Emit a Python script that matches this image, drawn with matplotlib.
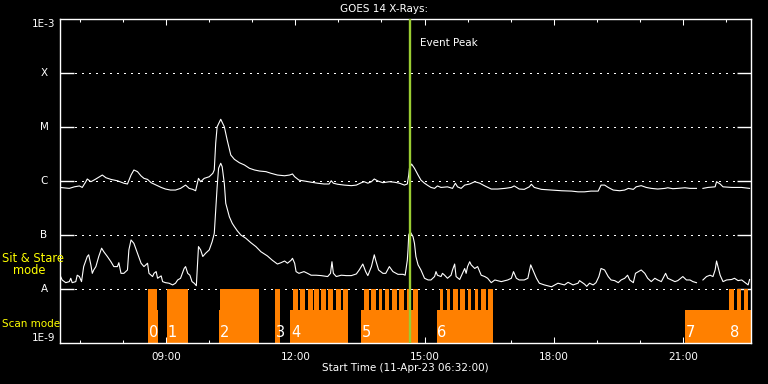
#!/usr/bin/env python3

import numpy as np
import matplotlib
matplotlib.use("Agg")
import matplotlib.pyplot as plt
from matplotlib.ticker import FixedLocator, NullLocator
from matplotlib.transforms import blended_transform_factory

# start of plot, times below are minutes after this
START = "11-Apr-23 06:32:00"
START_MIN = 6 * 60 + 32
END_MIN = 963

# GOES long channel (1-8 A), W/m^2 ; nan = data gap
long_t = [0, 13, 20, 27, 31, 36, 38, 43, 45, 50, 59, 64, 71, 80, 89, 94, 99, 103, 108, 113,
          117, 122, 127, 134, 141, 147, 154, 161, 168, 175, 180, 185, 189, 193, 196, 201, 208, 213, 215, 217,
          219, 224, 229, 233, 238, 243, 250, 257, 264, 271, 278, 287, 294, 303, 313, 320, 324, 327, 333, 340,
          350, 359, 368, 375, 378, 381, 387, 396, 406, 413, 420, 424, 429, 434, 438, 443, 450, 459, 466, 473,
          480, 484, 486, 487, 490, 494, 499, 503, 508, 513, 517, 522, 526, 531, 540, 547, 551, 554, 559, 564,
          571, 578, 585, 592, 601, 610, 620, 629, 633, 640, 647, 654, 657, 661, 671, 685, 699, 713, 722, 731,
          740, 750, 754, 759, 764, 771, 780, 787, 792, 799, 803, 810, 817, 824, 833, 843, 847, 854, 861, 871,
          878, 887, 891, 896, 903, 913, 915, 920, 924, 936, 950, 961]
long_flux = [7.6e-7, 7.3e-7, 7.8e-7, 8.1e-7, 7.6e-7, 9.7e-7, 1.09e-6, 9.7e-7, 1.0e-6, 1.09e-6,
             1.29e-6, 1.15e-6, 1.07e-6, 1.01e-6, 9.1e-7, 8.8e-7, 1.29e-6, 1.6e-6, 1.49e-6, 1.24e-6,
             1.12e-6, 1.07e-6, 9.3e-7, 8.4e-7, 7.6e-7, 7.1e-7, 6.8e-7, 6.8e-7, 7.3e-7, 8.4e-7,
             7.3e-7, 7.0e-7, 6.6e-7, 1.12e-6, 9.7e-7, 1.12e-6, 1.2e-6, 1.39e-6, 1.6e-6, 5.05e-6,
             1.01e-5, 1.39e-5, 1.01e-5, 5.74e-6, 3.03e-6, 2.52e-6, 2.18e-6, 1.98e-6, 1.72e-6, 1.6e-6,
             1.53e-6, 1.49e-6, 1.39e-6, 1.29e-6, 1.25e-6, 1.29e-6, 1.35e-6, 1.2e-6, 1.04e-6, 1.0e-6,
             9.5e-7, 9.1e-7, 8.8e-7, 8.8e-7, 1.01e-6, 9.1e-7, 8.7e-7, 8.4e-7, 8.2e-7, 8.4e-7,
             9.3e-7, 9.7e-7, 9.1e-7, 9.7e-7, 1.09e-6, 1.0e-6, 9.3e-7, 9.7e-7, 9.5e-7, 9.1e-7,
             8.4e-7, 8.8e-7, 1.29e-6, 1.72e-6, 2.06e-6, 1.72e-6, 1.29e-6, 1.04e-6, 9.1e-7, 8.2e-7,
             7.6e-7, 7.3e-7, 8.1e-7, 7.6e-7, 7.8e-7, 7.3e-7, 9.1e-7, 7.8e-7, 7.3e-7, 8.4e-7,
             8.8e-7, 9.7e-7, 9.1e-7, 8.1e-7, 7.1e-7, 7.1e-7, 7.3e-7, 7.6e-7, 8.1e-7, 7.1e-7,
             7.0e-7, 7.8e-7, 8.7e-7, 7.6e-7, 7.0e-7, 6.8e-7, 6.6e-7, 6.5e-7, 6.3e-7, 6.3e-7,
             6.5e-7, 6.5e-7, 8.4e-7, 8.4e-7, 7.6e-7, 6.8e-7, 6.6e-7, 6.8e-7, 7.3e-7, 7.0e-7,
             7.8e-7, 8.2e-7, 7.6e-7, 7.3e-7, 7.1e-7, 7.3e-7, 7.5e-7, 7.2e-7, 7.3e-7, 7.5e-7,
             7.3e-7, 7.3e-7, np.nan, 7.3e-7, 7.6e-7, 7.8e-7, 9.7e-7, 8.8e-7, 7.8e-7, 7.6e-7,
             7.6e-7, 7.3e-7]

# GOES short channel (0.5-4 A), W/m^2
short_t = [0, 3, 8, 13, 15, 17, 22, 24, 27, 30, 33, 38, 40, 43, 45, 47, 50, 54, 58, 61,
           66, 71, 75, 80, 82, 85, 89, 94, 96, 99, 103, 108, 113, 117, 122, 124, 129, 131, 134, 136,
           141, 143, 147, 152, 157, 161, 164, 168, 173, 175, 178, 181, 184, 187, 190, 193, 196, 199, 203, 208,
           212, 215, 217, 219, 221, 224, 226, 229, 231, 236, 240, 243, 247, 252, 259, 266, 273, 280, 289, 296,
           303, 308, 313, 317, 322, 324, 327, 329, 333, 340, 345, 350, 357, 364, 373, 377, 379, 381, 385, 392,
           399, 406, 413, 417, 422, 426, 429, 434, 438, 440, 444, 450, 454, 459, 464, 471, 478, 481, 484, 485,
           486, 488, 492, 494, 496, 499, 503, 508, 513, 517, 522, 524, 526, 531, 533, 536, 540, 545, 547, 550,
           552, 557, 561, 564, 566, 568, 571, 573, 578, 582, 587, 592, 596, 601, 606, 615, 624, 629, 632, 636,
           640, 647, 652, 656, 659, 664, 668, 675, 685, 694, 703, 708, 715, 722, 724, 731, 734, 738, 743, 747,
           751, 754, 759, 764, 768, 773, 778, 782, 787, 791, 794, 799, 802, 806, 810, 815, 819, 824, 829, 833,
           838, 844, 847, 852, 857, 861, 868, 873, 878, 882, 887, 891, 896, 901, 906, 910, 913, 915, 917, 920,
           924, 929, 936, 940, 945, 950, 955, 959, 961]
short_flux = [1.8e-8, 1.47e-8, 1.31e-8, 1.37e-8, 1.58e-8, 1.31e-8, 1.37e-8, 1.8e-8, 1.7e-8, 1.37e-8,
              2.6e-8, 4.0e-8, 4.3e-8, 2.8e-8, 1.95e-8, 2.25e-8, 2.6e-8, 4.0e-8, 5.7e-8, 4.9e-8,
              4.0e-8, 3.2e-8, 2.6e-8, 2.6e-8, 3.07e-8, 1.95e-8, 1.95e-8, 2.25e-8, 5.3e-8, 8.1e-8,
              7.0e-8, 4.6e-8, 3.0e-8, 2.6e-8, 3.0e-8, 1.95e-8, 1.7e-8, 1.95e-8, 2.1e-8, 1.58e-8,
              1.75e-8, 1.37e-8, 1.31e-8, 1.28e-8, 1.19e-8, 1.28e-8, 1.47e-8, 1.58e-8, 2.4e-8, 2.6e-8,
              1.95e-8, 1.8e-8, 1.37e-8, 1.28e-8, 1.15e-8, 6.1e-8, 5.3e-8, 4.0e-8, 4.6e-8, 5.3e-8,
              7.5e-8, 1.07e-7, 2.9e-7, 7.8e-7, 1.72e-6, 2.13e-6, 1.84e-6, 9.0e-7, 3.86e-7, 2.18e-7,
              1.65e-7, 1.43e-7, 1.2e-7, 1.0e-7, 8.7e-8, 7.2e-8, 6.1e-8, 4.9e-8, 4.1e-8, 3.4e-8,
              2.9e-8, 3.07e-8, 3.3e-8, 3.0e-8, 3.4e-8, 3.7e-8, 3.0e-8, 2.1e-8, 1.95e-8, 2.1e-8,
              1.95e-8, 1.8e-8, 1.8e-8, 1.77e-8, 1.7e-8, 1.95e-8, 3.2e-8, 1.95e-8, 1.7e-8, 1.8e-8,
              1.77e-8, 1.77e-8, 1.9e-8, 2.25e-8, 2.9e-8, 2.1e-8, 1.77e-8, 2.6e-8, 4.3e-8, 3.4e-8,
              2.25e-8, 1.95e-8, 1.95e-8, 2.6e-8, 2.1e-8, 1.87e-8, 1.87e-8, 1.8e-8, 3.4e-8, 5.3e-8,
              1.0e-7, 1.15e-7, 9.3e-8, 7.0e-8, 4.0e-8, 2.8e-8, 2.25e-8, 1.58e-8, 1.47e-8, 1.47e-8,
              1.7e-8, 2.1e-8, 1.8e-8, 1.7e-8, 1.95e-8, 1.8e-8, 1.58e-8, 1.8e-8, 2.25e-8, 2.9e-8,
              1.7e-8, 1.5e-8, 1.95e-8, 2.4e-8, 1.95e-8, 2.6e-8, 3.2e-8, 2.8e-8, 2.4e-8, 2.6e-8,
              1.8e-8, 1.7e-8, 1.58e-8, 1.31e-8, 1.47e-8, 1.37e-8, 1.47e-8, 1.58e-8, 2.1e-8, 1.58e-8,
              1.47e-8, 1.47e-8, 1.58e-8, 2.8e-8, 2.25e-8, 1.58e-8, 1.28e-8, 1.19e-8, 1.1e-8, 1.28e-8,
              1.19e-8, 1.33e-8, 1.19e-8, 1.28e-8, 1.43e-8, 1.23e-8, 1.12e-8, 1.28e-8, 1.19e-8, 1.31e-8,
              1.7e-8, 2.4e-8, 2.25e-8, 1.7e-8, 1.47e-8, 1.43e-8, 1.31e-8, 1.47e-8, 1.58e-8, 1.8e-8,
              1.47e-8, 1.31e-8, 1.95e-8, 2.1e-8, 2.25e-8, 1.95e-8, 1.58e-8, 1.37e-8, 1.58e-8, 1.47e-8,
              1.37e-8, 1.95e-8, 1.58e-8, 1.47e-8, 1.37e-8, 1.43e-8, 1.7e-8, 1.47e-8, 1.47e-8, 1.37e-8,
              1.31e-8, np.nan, 1.47e-8, 1.7e-8, 1.8e-8, 1.7e-8, 2.25e-8, 3.3e-8, 2.6e-8, 1.8e-8,
              1.37e-8, 1.47e-8, 1.5e-8, 1.58e-8, 1.43e-8, 1.47e-8, 1.31e-8, 1.19e-8, 1.5e-8]

EVENT_PEAK = 488  # 14:40

# observations: scan (raster) intervals and sit & stare intervals, minutes after start
scan_intervals = [(123, 137), (222, 278), (321, 401), (419, 499), (525, 604), (871, 963)]
stare_intervals = [(123, 135), (149, 179), (223, 278), (300, 307),
                   (325, 332), (335, 342), (345, 352), (354, 361), (364, 371), (374, 381), (384, 391), (394, 401),
                   (424, 430), (434, 440), (444, 449), (453, 459), (463, 469), (473, 479), (483, 488), (492, 499),
                   (529, 534), (539, 544), (548, 554), (558, 564), (568, 573), (578, 583), (587, 593), (597, 604),
                   (933, 939), (943, 949), (953, 959)]
obs_labels = ["0", "1", "2", "3", "4", "5", "6", "7", "8"]
obs_label_t = [123, 149, 222, 300, 321, 419, 525, 871, 933]

goes_classes = ["X", "M", "C", "B", "A"]
class_flux = [1e-4, 1e-5, 1e-6, 1e-7, 1e-8]

ORANGE = "#ff8000"
YELLOW = "#ffff00"
GREEN = "#9acd32"
FS = 7.5

plt.rcParams['font.family'] = ['DejaVu Sans']

fig = plt.figure(figsize=(7.68, 3.84), dpi=100, facecolor="black")
ax = fig.add_axes([60 / 768, 41 / 384, 691 / 768, 324 / 384], facecolor="black")
ax.set_yscale("log")
ax.set_xlim(0, END_MIN)
ax.set_ylim(1e-9, 1e-3)

# observation bars
scan_top = 4.1e-9
for a, b in scan_intervals:
    ax.bar(a, scan_top - 1e-9, width=b - a, bottom=1e-9, align="edge", color=ORANGE, lw=0,
           antialiased=False, zorder=2)
for a, b in stare_intervals:
    ax.bar(a, 1e-8 - 1e-9, width=b - a, bottom=1e-9, align="edge", color=ORANGE, lw=0,
           antialiased=False, zorder=2)

tr = blended_transform_factory(ax.transData, ax.transAxes)
for lab, t in zip(obs_labels, obs_label_t):
    ax.text(t + 1, 0.031, lab, transform=tr, color="white", fontsize=10.5,
            ha="left", va="center", zorder=4)

# dotted class lines
for v in class_flux:
    ax.axhline(v, xmin=0.022, xmax=0.978, color="white", lw=0.75, ls=(0, (1, 5)),
               antialiased=False, zorder=1)

ax.plot(long_t, long_flux, color="white", lw=0.8, zorder=3)
ax.plot(short_t, short_flux, color="white", lw=0.8, zorder=3)

ax.axvline(EVENT_PEAK, color=GREEN, lw=1.7, zorder=5)
fig.text(420 / 768, 1 - 43 / 384, "Event Peak", color="white", fontsize=FS, va="center", ha="left")

# axes styling
for s in ax.spines.values():
    s.set_color("white")
    s.set_linewidth(1.0)

ax.yaxis.set_major_locator(FixedLocator(class_flux))
ax.yaxis.set_minor_locator(NullLocator())
ax.tick_params(axis="y", which="major", direction="in", length=10, width=1.0, color="white",
               left=True, right=True, labelleft=False)

hours = list(range(7, 23))
hour_t = [h * 60 - START_MIN for h in hours]
major_t = [t for h, t in zip(hours, hour_t) if h % 3 == 0]
major_lab = ["%02d:00" % h for h in hours if h % 3 == 0]
ax.set_xticks(major_t)
ax.set_xticklabels(major_lab)
ax.xaxis.set_minor_locator(FixedLocator(hour_t))
ax.tick_params(axis="x", which="major", direction="in", length=4.3, width=0.75, color="white",
               top=True, bottom=True, labelcolor="white", labelsize=FS, pad=6.5)
ax.tick_params(axis="x", which="minor", direction="in", length=2.2, width=0.75, color="white",
               top=True, bottom=True)

# y labels centred like the original
ytr = blended_transform_factory(ax.transAxes, ax.transData)
lx = (44 - 60) / 691
ax.text(lx, 1e-3, "1E-3", transform=ytr, color="white", fontsize=FS, ha="center", va="top", clip_on=False)
ax.text(lx, 1e-9, "1E-9", transform=ytr, color="white", fontsize=FS, ha="center", va="bottom", clip_on=False)
for lab, v in zip(goes_classes, class_flux):
    ax.text(lx, v, lab, transform=ytr, color="white", fontsize=FS, ha="center", va="center", clip_on=False)

fig.text(0.5, 1 - 9 / 384, "GOES 14 X-Rays:", color="white", fontsize=FS, ha="center", va="center")
fig.text(405.5 / 768, 1 - 368 / 384, "Start Time (%s)" % START, color="white", fontsize=FS,
         ha="center", va="center")

fig.text(2 / 768, 1 - 259 / 384, "Sit & Stare", color=YELLOW, fontsize=8.3, ha="left", va="center", zorder=10)
fig.text(13 / 768, 1 - 271 / 384, "mode", color=YELLOW, fontsize=8.3, ha="left", va="center", zorder=10)
fig.text(2 / 768, 1 - 324 / 384, "Scan mode", color=YELLOW, fontsize=7.5, ha="left", va="center", zorder=10)

fig.savefig("out.png", dpi=100, facecolor="black")
